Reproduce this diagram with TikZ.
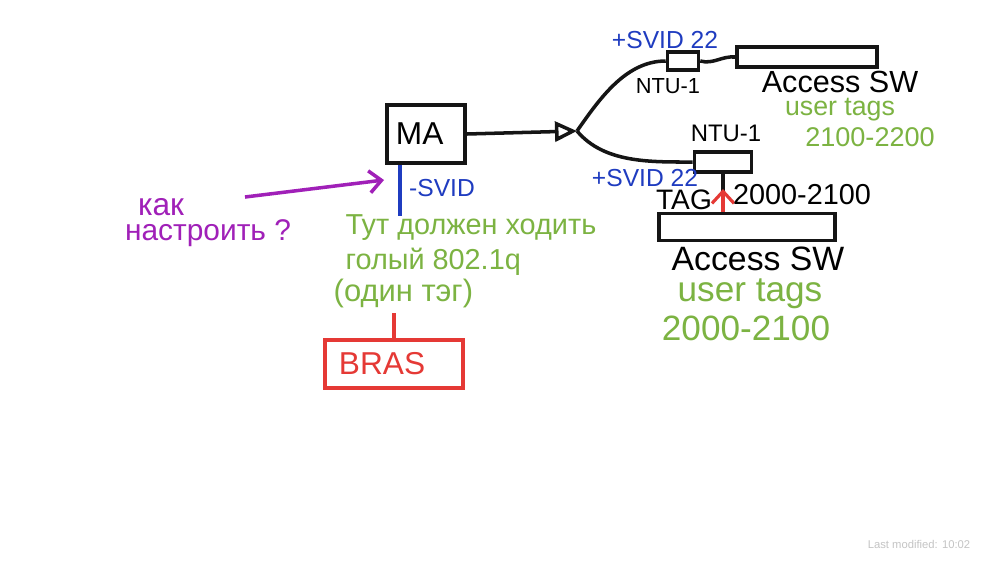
\documentclass[tikz,border=0pt]{standalone}
\usepackage{fontspec}
\setmainfont{Liberation Sans}
\usetikzlibrary{arrows.meta,positioning}
\definecolor{inkblack}{HTML}{151515}
\definecolor{inkblue}{HTML}{1F3CC0}
\definecolor{inkgreen}{HTML}{7CB342}
\definecolor{inkpurple}{HTML}{A020B8}
\definecolor{inkred}{HTML}{E53935}
\definecolor{faintgray}{HTML}{C4C4C4}
\tikzset{
  hand/.style={inner sep=0pt,font=\fontsize{#1}{#1}\selectfont},
  box/.style={draw=inkblack,line width=1pt,inner sep=0pt},
  wire/.style={draw=inkblack,line width=1pt},
  openarrow/.style={-{Triangle[open,length=2.2mm,width=2mm]},line width=1pt,inkblack},
  barbarrow/.style={-{Straight Barb[length=1.2mm,width=2.2mm]},line width=0.9pt},
  svidlabel/.style={hand=7,text=inkblue},
  note/.style={hand=#1,text=inkgreen},
  asklabel/.style={hand=#1,text=inkpurple}
}
\begin{document}
\begin{tikzpicture}[x=0.01cm,y=-0.01cm]
  \useasboundingbox (0,0) rectangle (1000,581);
  \fill[white] (0,0) rectangle (1000,581);

  % MA and the split towards the NTUs
  \node[box,minimum width=0.78cm,minimum height=0.58cm,hand=9,text width=0.6cm,align=left] (ma) at (426,134) {MA};
  \coordinate (split) at (577,131);
  \draw[openarrow] (ma.east) -- (split);

  \node[box,minimum width=0.31cm,minimum height=0.18cm] (ntu1) at (683,61) {};
  \node[box,minimum width=1.40cm,minimum height=0.20cm] (sw1) at (807,57) {};
  \node[box,minimum width=0.57cm,minimum height=0.20cm] (ntu2) at (723,162) {};
  \node[box,minimum width=1.76cm,minimum height=0.27cm] (sw2) at (747,227) {};

  \draw[wire] (split) to[out=55,in=180,looseness=0.9] (ntu1.west);
  \draw[wire] (split) to[out=-50,in=180,looseness=0.9] (ntu2.west);
  \draw[wire] (ntu1.east) to[out=-15,in=175] (sw1.west);
  \draw[wire] (ntu2.south) -- (ntu2.south |- sw2.north);
  \coordinate (tagtip) at (723,189);
  \draw[barbarrow,inkred] (ntu2.south |- sw2.north) -- (tagtip);

  % Upper branch labels
  \node[svidlabel] (svid1) at (665,40) {+SVID 22};
  \node[hand=6.2] (ntu1lbl) at (668,86) {NTU-1};
  \node[hand=8.7] (sw1lbl) at (840,82) {Access SW};
  \node[note=7.6] (tags1) at (840,110) {user tags};
  \node[note=7.7] (range1) at (870,137) {2100-2200};

  % Lower branch labels
  \node[hand=6.8] (ntu2lbl) at (726,133) {NTU-1};
  \node[svidlabel] (svid2) at (645,178) {+SVID 22};
  \node[hand=8] (taglbl) at (684,200) {TAG};
  \node[hand=8.2] (tagrange) at (802,195) {2000-2100};
  \node[hand=9.6] (sw2lbl) at (758,259) {Access SW};
  \node[note=10] (tags2) at (750,294) {user tags};
  \node[note=10] (range2) at (746,328) {2000-2100};

  % Towards BRAS
  \coordinate (svidend) at (400,216);
  \draw[inkblue,line width=1pt] (ma.south -| svidend) -- (svidend);
  \node[svidlabel] (svid3) at (442,188) {-SVID};
  \node[note=8.2,anchor=west] (note1) at (345,228) {Тут должен ходить};
  \node[note=8.2,anchor=west] (note2) at (345,262) {голый 802.1q};
  \node[note=8.8,anchor=west] (note3) at (333,293) {(один тэг)};
  \node[box,draw=inkred,minimum width=1.38cm,minimum height=0.48cm,hand=9,text=inkred,text width=1.1cm,align=left] (bras) at (394,364) {BRAS};
  \coordinate (brastop) at (394,313);
  \draw[inkred,line width=1pt] (bras.north) -- (brastop);

  % Question
  \coordinate (askstart) at (245,197);
  \coordinate (asktip) at (384,180);
  \draw[barbarrow,inkpurple,line width=1pt] (askstart) -- (asktip);
  \node[asklabel=9] (ask1) at (161,207) {как};
  \node[asklabel=8.5] (ask2) at (208,233) {настроить ?};

  \node[hand=3.2,text=faintgray] (stamp) at (919,544) {Last modified: 10:02};
\end{tikzpicture}
\end{document}
